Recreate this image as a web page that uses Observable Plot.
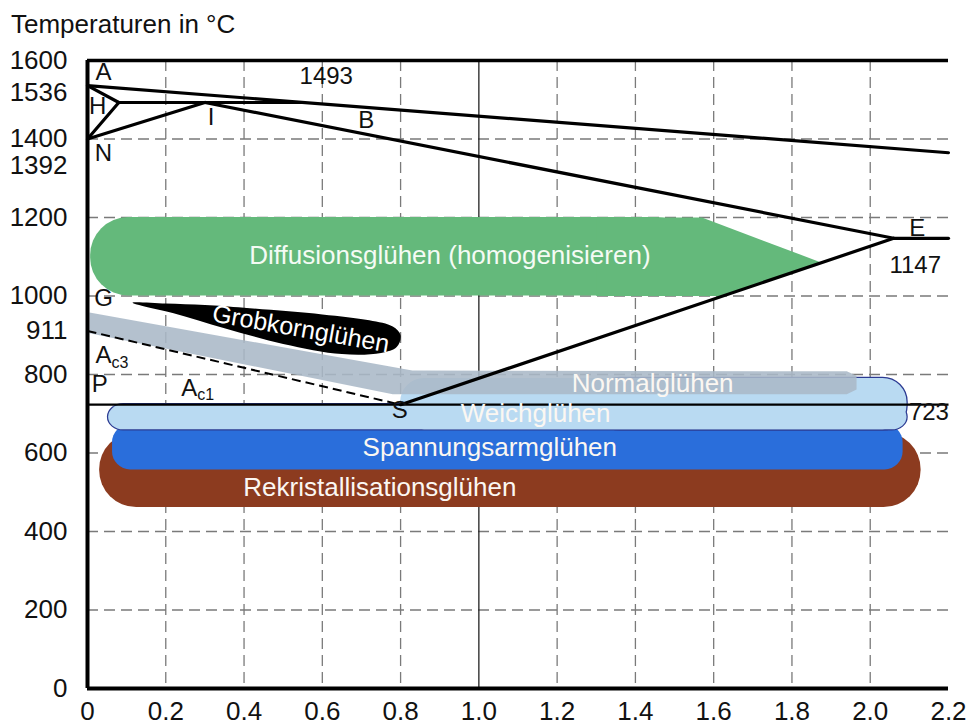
<!DOCTYPE html>
<html>
<head>
<meta charset="utf-8">
<script src="https://cdn.jsdelivr.net/npm/d3@7"></script>
<script src="https://cdn.jsdelivr.net/npm/@observablehq/plot@0.6"></script>
<style>
  body { margin: 0; background: #fff; font-family: "Liberation Sans", Arial, sans-serif; }
  #wrap { position: relative; width: 969px; height: 726px; }
  #title { position: absolute; left: 11px; top: 9px; font-size: 26px; color: #111; line-height: 30px; }
</style>
</head>
<body>
<div id="wrap"><div id="title">Temperaturen in °C</div></div>
<script>
// ---- axis ticks ----
const xTicks = [0, 0.2, 0.4, 0.6, 0.8, 1.0, 1.2, 1.4, 1.6, 1.8, 2.0, 2.2];
const xTickLabels = ["0", "0.2", "0.4", "0.6", "0.8", "1.0", "1.2", "1.4", "1.6", "1.8", "2.0", "2.2"];
const xGridDashed = [0.2, 0.4, 0.6, 0.8, 1.2, 1.4, 1.6, 1.8, 2.0];
const xGridSolid = [1.0];
const yTicks = [0, 200, 400, 600, 800, 911, 1000, 1200, 1400, 1600];
const yTicksShifted = [1536, 1392];
const yGrid = [200, 400, 600, 800, 1000, 1200, 1400];

// ---- Fe-C phase diagram points (C in %, T in °C) ----
const phasePoints = [
  {id: "A", c: 0, T: 1536},
  {id: "H", c: 0.08, T: 1493},
  {id: "N", c: 0, T: 1400},
  {id: "I", c: 0.3, T: 1493},
  {id: "B", c: 0.55, T: 1493},
  {id: "E", c: 2.06, T: 1147},
  {id: "S", c: 0.8, T: 723},
  {id: "G", c: 0, T: 911},
  {id: "P", c: 0, T: 723},
  {id: "K", c: 2.2, T: 723},
  {id: "Lr", c: 2.2, T: 1365},
  {id: "Er", c: 2.2, T: 1147}
];
const solidLines = [["A", "Lr"], ["A", "H"], ["H", "N"], ["H", "B"], ["N", "I"], ["I", "E"], ["E", "Er"], ["S", "E"]];
const eutectoidLine = [["P", "K"]];
const ac3Line = [["G", "S"]];

// ---- annealing ranges ----
const rekristallisation = [{c1: 0.031, c2: 2.13, T1: 461, T2: 652}];
const spannungsarm = [{c1: 0.064, c2: 2.084, T1: 557, T2: 672}];
const weichLow = [{c1: 0.054, c2: 2.094, T1: 659, T2: 723}];
const weichHighOutline = [{c1: 1.3, c2: 2.094, T1: 659, T2: 790}];
const weichHighFill = [{c1: 0.8, c2: 2.094, T1: 659, T2: 790}];
const diffusionBody = [{c1: 0.008, c2: 1.55, T1: 1000, T2: 1200}];
const diffusionTail = [
  {c: 1.3, T: 1200}, {c: 1.57, T: 1200}, {c: 1.876, T: 1085}, {c: 1.623, T: 1000}, {c: 1.3, T: 1000}
];
const normalBand = [
  {c: 0.005, T: 958}, {c: 0.83, T: 810}, {c: 1.94, T: 808}, {c: 1.965, T: 797},
  {c: 1.965, T: 762}, {c: 1.94, T: 750}, {c: 0.78, T: 750}, {c: 0.005, T: 905}
];
const grobkorn = [
  {c: 0.115, T: 983}, {c: 0.2, T: 981}, {c: 0.3, T: 977}, {c: 0.4, T: 970}, {c: 0.6, T: 953},
  {c: 0.72, T: 938}, {c: 0.78, T: 922}, {c: 0.80, T: 900}, {c: 0.79, T: 870}, {c: 0.75, T: 855},
  {c: 0.65, T: 852}, {c: 0.5, T: 878}, {c: 0.35, T: 918}, {c: 0.22, T: 956}
];

// ---- labels ----
const pointLabels = [
  {text: "A", c: 0.041, T: 1569}, {text: "H", c: 0.026, T: 1483}, {text: "N", c: 0.041, T: 1363},
  {text: "I", c: 0.316, T: 1455}, {text: "B", c: 0.712, T: 1447}, {text: "1493", c: 0.61, T: 1559},
  {text: "E", c: 2.12, T: 1172}, {text: "1147", c: 2.115, T: 1078}, {text: "G", c: 0.041, T: 994},
  {text: "P", c: 0.031, T: 775}, {text: "S", c: 0.798, T: 708}, {text: "723", c: 2.15, T: 703}
];
const acLabels = [
  {text: "A", sub: "c3", c: 0.041, T: 848},
  {text: "A", sub: "c1", c: 0.26, T: 766}
];
const regionLabels = [
  {text: "Rekristallisationsglühen", c: 0.747, T: 512},
  {text: "Spannungsarmglühen", c: 1.028, T: 614},
  {text: "Weichglühen", c: 1.145, T: 700},
  {text: "Normalglühen", c: 1.444, T: 777}
];
const diffusionLabel = [{text: "Diffusionsglühen (homogenisieren)", c: 0.926, T: 1103}];
const grobkornLabel = [{text: "Grobkornglühen", c: 0.545, T: 916}];

// ---- build segments ----
const byId = Object.fromEntries(phasePoints.map(p => [p.id, p]));
const seg = pairs => pairs.map(([a, b]) => ({c1: byId[a].c, T1: byId[a].T, c2: byId[b].c, T2: byId[b].T}));

const font = "'Liberation Sans', Arial, sans-serif";

const chart = Plot.plot({
  width: 969,
  height: 726,
  marginLeft: 87,
  marginRight: 21,
  marginTop: 60,
  marginBottom: 38,
  style: {fontFamily: font, fontSize: "24px", background: "transparent", overflow: "visible"},
  x: {domain: [0, 2.2]},
  y: {domain: [0, 1600]},
  marks: [
    // grid
    Plot.ruleX(xGridDashed, {stroke: "#7a7a7a", strokeWidth: 1.3, strokeDasharray: "11,6"}),
    Plot.ruleY(yGrid, {stroke: "#7a7a7a", strokeWidth: 1.3, strokeDasharray: "11,6"}),
    Plot.ruleX(xGridSolid, {stroke: "#222", strokeWidth: 1.3}),
    // annealing areas
    Plot.rect(rekristallisation, {x1: "c1", x2: "c2", y1: "T1", y2: "T2", fill: "#8c3b1f", rx: 37}),
    Plot.rect(spannungsarm, {x1: "c1", x2: "c2", y1: "T1", y2: "T2", fill: "#2a6edb", rx: 18}),
    Plot.rect(weichLow, {x1: "c1", x2: "c2", y1: "T1", y2: "T2", fill: "#b9daf2", stroke: "#2b3a92", strokeWidth: 2.5, rx: 15}),
    Plot.rect(weichHighOutline, {x1: "c1", x2: "c2", y1: "T1", y2: "T2", fill: "#b9daf2", stroke: "#2b3a92", strokeWidth: 2.5, rx: 24}),
    Plot.rect(weichLow, {x1: "c1", x2: "c2", y1: "T1", y2: "T2", fill: "#b9daf2", rx: 15}),
    Plot.rect(weichHighFill, {x1: "c1", x2: "c2", y1: "T1", y2: "T2", fill: "#b9daf2", rx: 24}),
    Plot.line(normalBand, {x: "c", y: "T", fill: "#aab8c7", fillOpacity: 0.88, stroke: "none", curve: "linear-closed"}),
    Plot.rect(diffusionBody, {x1: "c1", x2: "c2", y1: "T1", y2: "T2", fill: "#64b97b", rx: 38}),
    Plot.line(diffusionTail, {x: "c", y: "T", fill: "#64b97b", stroke: "none", curve: "linear-closed"}),
    Plot.line(grobkorn, {x: "c", y: "T", fill: "#000", stroke: "none", curve: "catmull-rom-closed"}),
    // phase lines
    Plot.link(seg(solidLines), {x1: "c1", y1: "T1", x2: "c2", y2: "T2", stroke: "#000", strokeWidth: 3.2, strokeLinecap: "round"}),
    Plot.link(seg(eutectoidLine), {x1: "c1", y1: "T1", x2: "c2", y2: "T2", stroke: "#000", strokeWidth: 2.2}),
    Plot.link(seg(ac3Line), {x1: "c1", y1: "T1", x2: "c2", y2: "T2", stroke: "#000", strokeWidth: 2, strokeDasharray: "9,5"}),
    // frame
    Plot.ruleY([1600], {stroke: "#000", strokeWidth: 3.5}),
    Plot.ruleY([0], {stroke: "#000", strokeWidth: 4}),
    Plot.ruleX([0], {stroke: "#000", strokeWidth: 4}),
    // axes
    Plot.axisX(xTicks, {tickSize: 0, tickPadding: 13, fontSize: 26, label: null, tickFormat: d => xTickLabels[xTicks.indexOf(d)], fill: "#111"}),
    Plot.axisY(yTicks, {tickSize: 0, tickPadding: 20, fontSize: 26, label: null, tickFormat: d => String(d), fill: "#111"}),
    Plot.text(yTicksShifted.slice(0, 1), {x: 0, y: d => d, text: d => String(d), dx: -20, dy: 7, textAnchor: "end", fontSize: 26, fill: "#111"}),
    Plot.text(yTicksShifted.slice(1), {x: 0, y: d => d, text: d => String(d), dx: -20, dy: 24, textAnchor: "end", fontSize: 26, fill: "#111"}),
    // point labels
    Plot.text(pointLabels, {x: "c", y: "T", text: "text", fontSize: 24, fill: "#111"}),
    Plot.text(acLabels, {x: "c", y: "T", text: "text", fontSize: 24, fill: "#111"}),
    Plot.text(acLabels, {x: "c", y: "T", text: "sub", fontSize: 16, dx: 8, dy: 7, textAnchor: "start", fill: "#111"}),
    // region labels
    Plot.text(regionLabels, {x: "c", y: "T", text: "text", fontSize: 26, fill: "#fbf7f2"}),
    Plot.text(diffusionLabel, {x: "c", y: "T", text: "text", fontSize: 26, fill: "#f4fbf4"}),
    Plot.text(grobkornLabel, {x: "c", y: "T", text: "text", fontSize: 25, fill: "#fff", rotate: 10})
  ]
});
chart.style.position = "absolute";
chart.style.left = "0";
chart.style.top = "0";
document.getElementById("wrap").appendChild(chart);
</script>
</body>
</html>
